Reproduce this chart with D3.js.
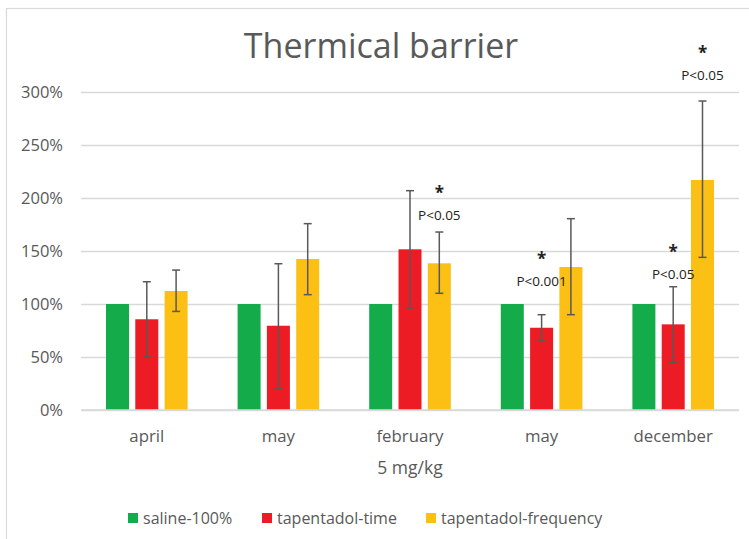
<!DOCTYPE html>
<html>
<head>
<meta charset="utf-8">
<script src="https://cdn.jsdelivr.net/npm/d3@7"></script>
<style>
  html, body { margin: 0; padding: 0; background: #fff; }
  svg { display: block; font-family: "Open Sans", "Noto Sans", sans-serif; }
</style>
</head>
<body>
<svg id="chart" width="749" height="539"></svg>
<script>
// Categories along the x axis (5 mg/kg dose)
const categories = ["april", "may", "february", "may", "december"];
const seriesNames = ["saline-100%", "tapentadol-time", "tapentadol-frequency"];
const seriesColors = ["#14ac4b", "#ed1c24", "#fcbf14"];

// Mean values (fraction of saline)
const saline = [1.00, 1.00, 1.00, 1.00, 1.00];
const tapTime = [0.856, 0.795, 1.516, 0.776, 0.808];
const tapFreq = [1.123, 1.425, 1.384, 1.349, 2.17];

// Error bar bounds [low, high]; saline has none
const tapTimeErr = [[0.503, 1.21], [0.20, 1.38], [0.962, 2.069], [0.654, 0.899], [0.45, 1.163]];
const tapFreqErr = [[0.93, 1.32], [1.088, 1.758], [1.101, 1.679], [0.899, 1.805], [1.44, 2.915]];

// Significance notes: category index, series index, label, level of the asterisk
const notes = [
  { cat: 2, series: 2, text: "P<0.05", level: 2.07 },
  { cat: 3, series: 1, text: "P<0.001", level: 1.44 },
  { cat: 4, series: 1, text: "P<0.05", level: 1.51 },
  { cat: 4, series: 2, text: "P<0.05", level: 3.39 }
];

const yTicks = [0, 0.5, 1, 1.5, 2, 2.5, 3];

const svg = d3.select("#chart");
const W = 749, H = 539;
const plot = { left: 81, right: 739, top: 92, bottom: 410 };
const textColor = "#595959";
const gridColor = "#d9d9d9";

// Chart frame
svg.append("rect")
  .attr("x", 6.5).attr("y", 8.5)
  .attr("width", W + 10).attr("height", H + 10)
  .attr("fill", "none").attr("stroke", gridColor).attr("stroke-width", 1.2);

const x0 = d3.scaleBand().domain(d3.range(categories.length))
  .range([plot.left, plot.right]).paddingInner(0).paddingOuter(0);
const x1 = d3.scaleBand().domain(d3.range(seriesNames.length))
  .range([0, x0.bandwidth()]).paddingInner(0.215).paddingOuter(0.853);
const y = d3.scaleLinear().domain([0, 3]).range([plot.bottom, plot.top]);

// Title
svg.append("text")
  .attr("x", 381).attr("y", 58)
  .attr("text-anchor", "middle")
  .attr("font-size", 34).attr("fill", textColor)
  .text("Thermical barrier");

// Gridlines and tick labels
const yAxis = d3.axisLeft(y).tickValues(yTicks)
  .tickFormat(d3.format(".0%"))
  .tickSize(-(plot.right - plot.left)).tickPadding(18);
const gy = svg.append("g").attr("transform", `translate(${plot.left},0)`).call(yAxis);
gy.select(".domain").remove();
gy.selectAll(".tick line").attr("stroke", gridColor).attr("stroke-width", 1.3);
gy.selectAll(".tick text").attr("fill", textColor)
  .attr("font-size", 16.5).attr("font-family", "Open Sans, sans-serif");

// Bars
const rows = categories.map((c, i) => [
  { s: 0, v: saline[i], err: null },
  { s: 1, v: tapTime[i], err: tapTimeErr[i] },
  { s: 2, v: tapFreq[i], err: tapFreqErr[i] }
]);

const groups = svg.append("g").selectAll("g").data(rows).join("g")
  .attr("transform", (d, i) => `translate(${x0(i)},0)`);

groups.selectAll("rect").data(d => d).join("rect")
  .attr("x", d => x1(d.s))
  .attr("y", d => y(d.v))
  .attr("width", x1.bandwidth())
  .attr("height", d => y(0) - y(d.v))
  .attr("fill", d => seriesColors[d.s]);

// Error bars
const errColor = "#595959";
const cap = 4;
const eb = groups.selectAll("g.err").data(d => d.filter(e => e.err)).join("g").attr("class", "err");
eb.append("line")
  .attr("x1", d => x1(d.s) + x1.bandwidth() / 2)
  .attr("x2", d => x1(d.s) + x1.bandwidth() / 2)
  .attr("y1", d => y(d.err[0])).attr("y2", d => y(d.err[1]));
eb.append("line")
  .attr("x1", d => x1(d.s) + x1.bandwidth() / 2 - cap)
  .attr("x2", d => x1(d.s) + x1.bandwidth() / 2 + cap)
  .attr("y1", d => y(d.err[0])).attr("y2", d => y(d.err[0]));
eb.append("line")
  .attr("x1", d => x1(d.s) + x1.bandwidth() / 2 - cap)
  .attr("x2", d => x1(d.s) + x1.bandwidth() / 2 + cap)
  .attr("y1", d => y(d.err[1])).attr("y2", d => y(d.err[1]));
eb.selectAll("line").attr("stroke", errColor).attr("stroke-width", 1.5);

// Baseline
svg.append("line")
  .attr("x1", plot.left).attr("x2", plot.right)
  .attr("y1", y(0)).attr("y2", y(0))
  .attr("stroke", gridColor).attr("stroke-width", 1.5);

// Significance notes
const ng = svg.append("g").selectAll("g").data(notes).join("g")
  .attr("transform", d => `translate(${x0(d.cat) + x1(d.series) + x1.bandwidth() / 2},${y(d.level)})`);
ng.append("text")
  .attr("text-anchor", "middle").attr("y", 8)
  .attr("font-size", 17).attr("font-weight", "bold").attr("fill", "#222")
  .text("*");
ng.append("text")
  .attr("text-anchor", "middle").attr("y", 29)
  .attr("font-size", 13.5).attr("fill", "#222")
  .text(d => d.text);

// Category labels
svg.append("g").selectAll("text").data(categories).join("text")
  .attr("x", (d, i) => x0(i) + x0.bandwidth() / 2)
  .attr("y", 442)
  .attr("text-anchor", "middle")
  .attr("font-size", 16.8).attr("fill", textColor)
  .text(d => d);

// Axis title
svg.append("text")
  .attr("x", 410).attr("y", 474)
  .attr("text-anchor", "middle")
  .attr("font-size", 17.5).attr("fill", textColor)
  .text("5 mg/kg");

// Legend
const legendX = [128, 262, 426];
const lg = svg.append("g").selectAll("g").data(seriesNames).join("g")
  .attr("transform", (d, i) => `translate(${legendX[i]},513)`);
lg.append("rect").attr("width", 10).attr("height", 10)
  .attr("fill", (d, i) => seriesColors[i]);
lg.append("text").attr("x", 15).attr("y", 10.5)
  .attr("font-size", 16).attr("fill", textColor)
  .text(d => d);
</script>
</body>
</html>
